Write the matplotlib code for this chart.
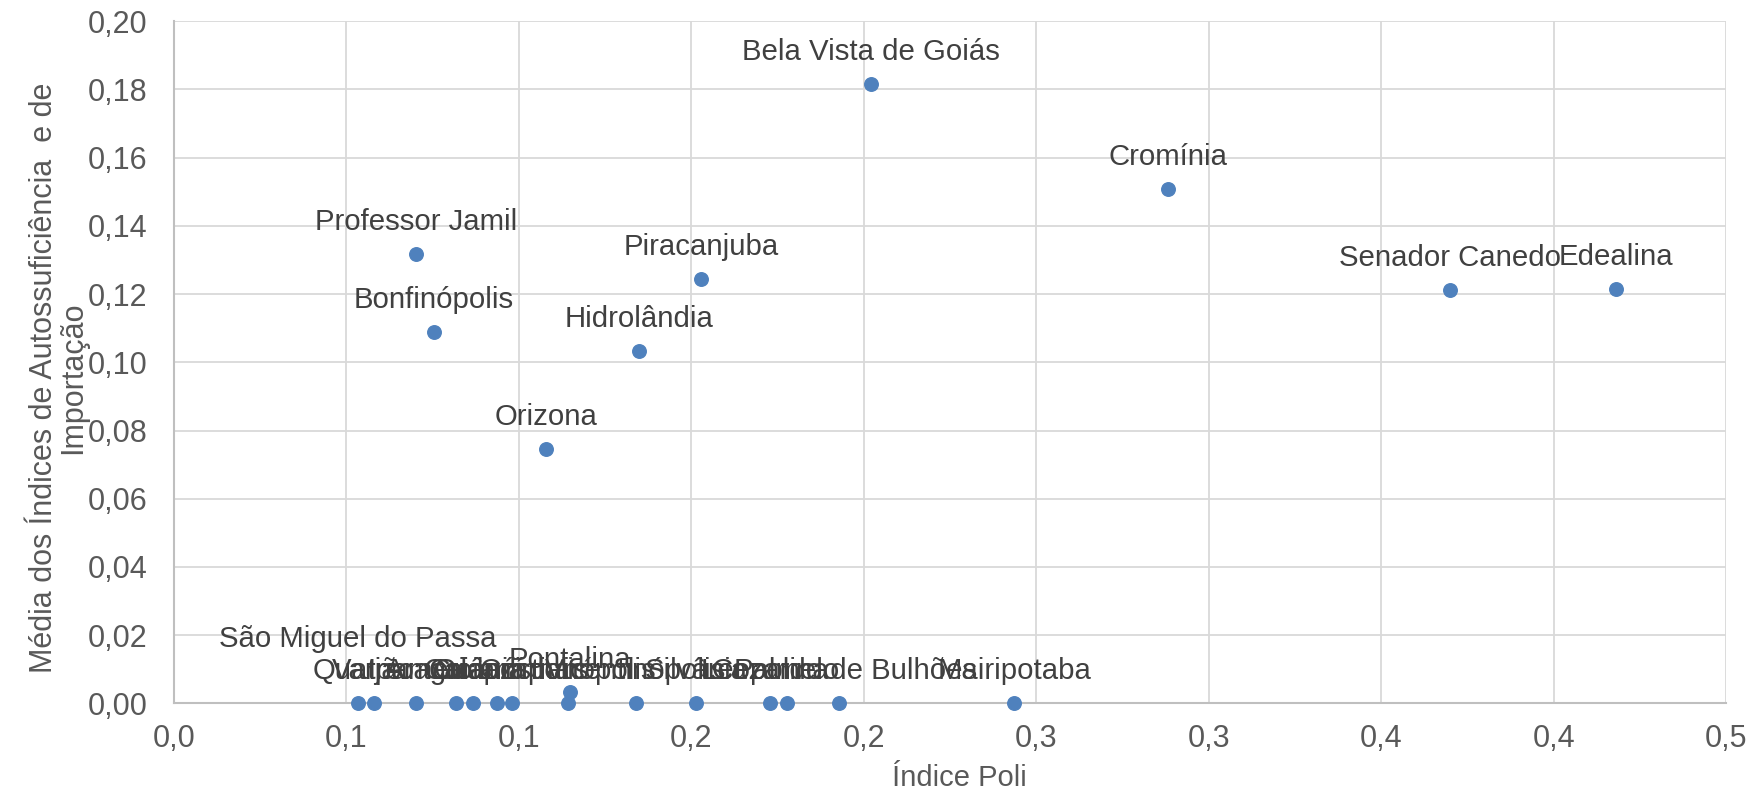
import matplotlib
matplotlib.use("Agg")
import matplotlib.pyplot as plt

# Municipalities: Índice Poli (x) vs. média dos índices (y)
names = [
    "Bela Vista de Goiás", "Cromínia", "Senador Canedo", "Edealina",
    "Professor Jamil", "Piracanjuba", "Bonfinópolis", "Hidrolândia",
    "Orizona", "Pontalina",
    "São Miguel do Passa\nQuatro", "Varjão", "Ipameri", "Aragoiânia",
    "Guapó", "Caldazinha", "Goianápolis", "Cristianópolis",
    "Vicentinópolis", "Silvânia", "Cezarina", "Palmelo",
    "Leopoldo de Bulhões", "Mairipotaba",
]
poli = [
    0.2020, 0.2881, 0.3700, 0.4179,
    0.0702, 0.1528, 0.0754, 0.1347,
    0.1078, 0.1149,
    0.0533, 0.0579, 0.0701, 0.0817,
    0.0866, 0.0937, 0.0979, 0.1142,
    0.1338, 0.1513, 0.1728, 0.1777,
    0.1927, 0.2436,
]
media = [
    0.1817, 0.1507, 0.1212, 0.1216,
    0.1317, 0.1245, 0.1088, 0.1033,
    0.0745, 0.0033,
    0.0, 0.0, 0.0, 0.0,
    0.0, 0.0, 0.0, 0.0,
    0.0, 0.0, 0.0, 0.0,
    0.0, 0.0,
]

x_ticks = [0.0, 0.05, 0.10, 0.15, 0.20, 0.25, 0.30, 0.35, 0.40, 0.45]
x_tick_labels = ["0,0", "0,1", "0,1", "0,2", "0,2", "0,3", "0,3", "0,4", "0,4", "0,5"]
y_ticks = [0.0, 0.02, 0.04, 0.06, 0.08, 0.10, 0.12, 0.14, 0.16, 0.18, 0.20]

BLUE = "#4F81BD"
TEXT = "#404040"
TICK = "#595959"
GRID = "#D9D9D9"

plt.rcParams["font.family"] = ["Liberation Sans", "DejaVu Sans"]

fig = plt.figure(figsize = (17.48, 7.94), dpi = 100)
ax = fig.add_axes([0.0995, 0.1141, 0.8882, 0.8592])

ax.scatter(poli, media, s = 95, c = BLUE, zorder = 3, clip_on = False)

for name, x, y in zip(names, poli, media):
    ax.annotate(name, (x, y), xytext = (0, 13), textcoords = "offset points",
                ha = "center", va = "bottom", multialignment = "center",
                fontsize = 21.2, color = TEXT, zorder = 4, annotation_clip = False)

ax.set_xlim(0, 0.45)
ax.set_ylim(0, 0.20)
ax.set_xticks(x_ticks)
ax.set_xticklabels(x_tick_labels)
ax.set_yticks(y_ticks)
ax.set_yticklabels([f"{v:.2f}".replace(".", ",") for v in y_ticks])
ax.tick_params(length = 0, labelsize = 22, labelcolor = TICK)
ax.tick_params(axis = "x", pad = 15)
ax.tick_params(axis = "y", pad = 19)

ax.grid(True, color = GRID, linewidth = 1.3, zorder = 0)
ax.set_axisbelow(True)
for side in ["top", "right"]:
    ax.spines[side].set_visible(False)
for side in ["left", "bottom"]:
    ax.spines[side].set_color("#BFBFBF")
    ax.spines[side].set_linewidth(1.5)

ax.set_xlabel("Índice Poli", fontsize = 21, color = TICK, va = "center")
ax.xaxis.set_label_coords(0.506, -0.109)
ax.set_ylabel("Média dos Índices de Autossuficiência  e de\nImportação", fontsize = 22,
              color = TICK, va = "center", linespacing = 0.95)
ax.yaxis.set_label_coords(-0.0741, 0.477)

plt.savefig("out.png", dpi = 100)
